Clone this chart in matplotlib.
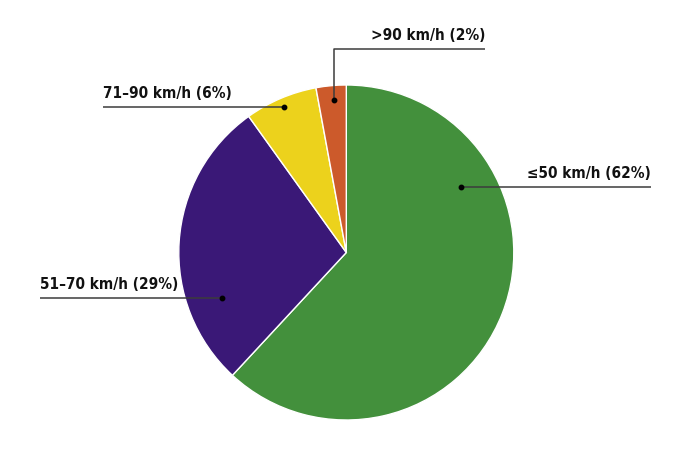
import numpy as np
import matplotlib.pyplot as plt

bands = ["\u226450 km/h", "51\u201370 km/h", "71\u201390 km/h", ">90 km/h"]
shares = [61.9, 28.2, 7.0, 2.9]
pct_labels = ["62%", "29%", "6%", "2%"]
colors = ["#43903c", "#3a1877", "#ecd21c", "#cc5a2b"]

# where the leader dot sits inside each wedge (fraction of span, fraction of radius)
anchor_frac = [0.27, 0.27, 0.49, 0.56]
anchor_rad = [0.79, 0.79, 0.94, 0.915]

plt.rcParams["font.family"] = ["DejaVu Sans"]

W, H = 687, 449
fig = plt.figure(figsize=(W / 100, H / 100), dpi=100)
ax = fig.add_axes([0, 0, 1, 1])

cx, cy, R = 346.3, 252.5, 167.5
# y axis is flipped below, so counterclock in data = clockwise on screen
ax.pie(shares, colors=colors, startangle=-90, counterclock=True,
       center=(cx, cy), radius=R, frame=True,
       wedgeprops=dict(edgecolor="white", linewidth=1))
ax.set_xlim(0, W)
ax.set_ylim(H, 0)
ax.axis("off")

# label layout: (line end x, line y, text align); last one has an elbow
layout = [
    (651, 187, "right"),
    (40, 298, "left"),
    (103, 107, "left"),
    (485, 49, "right"),
]

start = 0.0
line_col = "#3c3c3c"
for i, s in enumerate(shares):
    span = s / 100 * 360
    th = np.radians(start + anchor_frac[i] * span)
    r = anchor_rad[i] * R
    px = cx + r * np.sin(th)
    py = cy - r * np.cos(th)
    start += span

    ex, ey, ha = layout[i]
    if i == 3:
        ax.plot([px, px, ex], [py, ey, ey], color=line_col, lw=1.1, solid_capstyle="butt")
        ax.plot(px, py, "o", color="black", ms=3.2)
    else:
        ax.plot([px, ex], [ey, ey], color=line_col, lw=1.1, solid_capstyle="butt")
        ax.plot(px, ey, "o", color="black", ms=3.2)
    ax.text(ex, ey - 6, f"{bands[i]} ({pct_labels[i]})", ha=ha, va="bottom",
            fontsize=11, fontweight="bold", fontstretch="condensed", color="#111111")

fig.savefig("out.png", dpi=100)
